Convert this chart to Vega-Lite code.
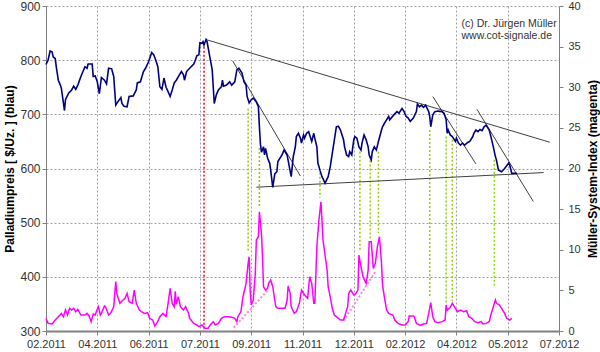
{
  "$schema": "https://vega.github.io/schema/vega-lite/v6.json",
  "width": 513,
  "height": 325,
  "autosize": {"type": "none"},
  "padding": {"left": 46, "top": 6, "right": 41, "bottom": 21},
  "background": "white",
  "config": {
    "view": {"stroke": null},
    "font": "Liberation Sans",
    "axis": {"labelColor": "#333333", "tickColor": "#808080", "domainColor": "#808080", "tickSize": 4, "gridColor": "#a0a0a0", "gridDash": [2, 2], "titleColor": "#000000", "titleFontWeight": "bold", "titleFontSize": 12},
    "axisX": {"labelFontSize": 11, "labelPadding": 3, "labelFlush": false, "labelOverlap": false, "domainWidth": 2, "grid": true},
    "axisLeft": {"labelFontSize": 12, "labelPadding": 2, "titlePadding": 3, "grid": true},
    "axisRight": {"labelFontSize": 11, "labelPadding": 5, "titlePadding": 7, "titleAngle": 270, "titleBaseline": "top", "grid": false}
  },
  "datasets": {
    "blue": [
      {"date":"2011-02-27","price":792},{"date":"2011-03-01","price":800},{"date":"2011-03-03","price":817},{"date":"2011-03-05","price":815},{"date":"2011-03-06","price":806},{"date":"2011-03-08","price":803},{"date":"2011-03-09","price":788},{"date":"2011-03-11","price":763},{"date":"2011-03-13","price":754},{"date":"2011-03-14","price":748},{"date":"2011-03-17","price":707},{"date":"2011-03-18","price":727},{"date":"2011-03-21","price":739},{"date":"2011-03-24","price":745},{"date":"2011-03-26","price":752},{"date":"2011-03-28","price":746},{"date":"2011-03-30","price":754},{"date":"2011-04-02","price":770},{"date":"2011-04-06","price":788},{"date":"2011-04-08","price":785},{"date":"2011-04-09","price":793},{"date":"2011-04-13","price":793},{"date":"2011-04-14","price":770},{"date":"2011-04-16","price":771},{"date":"2011-04-18","price":760},{"date":"2011-04-20","price":738},{"date":"2011-04-22","price":768},{"date":"2011-04-25","price":763},{"date":"2011-04-27","price":756},{"date":"2011-04-29","price":785},{"date":"2011-05-02","price":784},{"date":"2011-05-04","price":770},{"date":"2011-05-06","price":717},{"date":"2011-05-08","price":723},{"date":"2011-05-11","price":731},{"date":"2011-05-12","price":720},{"date":"2011-05-14","price":715},{"date":"2011-05-17","price":714},{"date":"2011-05-19","price":733},{"date":"2011-05-23","price":734},{"date":"2011-05-26","price":745},{"date":"2011-05-27","price":758},{"date":"2011-05-30","price":760},{"date":"2011-06-02","price":779},{"date":"2011-06-04","price":785},{"date":"2011-06-07","price":797},{"date":"2011-06-10","price":814},{"date":"2011-06-12","price":810},{"date":"2011-06-14","price":800},{"date":"2011-06-16","price":788},{"date":"2011-06-18","price":751},{"date":"2011-06-20","price":746},{"date":"2011-06-22","price":767},{"date":"2011-06-24","price":750},{"date":"2011-06-26","price":742},{"date":"2011-06-28","price":733},{"date":"2011-06-30","price":745},{"date":"2011-07-02","price":758},{"date":"2011-07-04","price":763},{"date":"2011-07-07","price":773},{"date":"2011-07-09","price":779},{"date":"2011-07-11","price":773},{"date":"2011-07-12","price":763},{"date":"2011-07-14","price":779},{"date":"2011-07-17","price":785},{"date":"2011-07-21","price":793},{"date":"2011-07-22","price":797},{"date":"2011-07-24","price":808},{"date":"2011-07-26","price":810},{"date":"2011-07-27","price":832},{"date":"2011-07-29","price":831},{"date":"2011-07-30","price":834},{"date":"2011-07-31","price":828},{"date":"2011-08-02","price":838},{"date":"2011-08-03","price":834},{"date":"2011-08-05","price":813},{"date":"2011-08-08","price":782},{"date":"2011-08-10","price":720},{"date":"2011-08-12","price":736},{"date":"2011-08-14","price":745},{"date":"2011-08-17","price":751},{"date":"2011-08-18","price":763},{"date":"2011-08-19","price":752},{"date":"2011-08-22","price":754},{"date":"2011-08-25","price":760},{"date":"2011-08-27","price":754},{"date":"2011-08-30","price":760},{"date":"2011-09-01","price":782},{"date":"2011-09-03","price":785},{"date":"2011-09-06","price":776},{"date":"2011-09-08","price":760},{"date":"2011-09-10","price":754},{"date":"2011-09-11","price":733},{"date":"2011-09-13","price":721},{"date":"2011-09-15","price":727},{"date":"2011-09-17","price":730},{"date":"2011-09-20","price":723},{"date":"2011-09-22","price":714},{"date":"2011-09-23","price":677},{"date":"2011-09-24","price":645},{"date":"2011-09-25","price":630},{"date":"2011-09-27","price":640},{"date":"2011-09-28","price":625},{"date":"2011-09-29","price":637},{"date":"2011-10-01","price":619},{"date":"2011-10-03","price":610},{"date":"2011-10-04","price":597},{"date":"2011-10-06","price":565},{"date":"2011-10-08","price":590},{"date":"2011-10-10","price":594},{"date":"2011-10-11","price":613},{"date":"2011-10-15","price":625},{"date":"2011-10-17","price":634},{"date":"2011-10-20","price":625},{"date":"2011-10-22","price":605},{"date":"2011-10-24","price":585},{"date":"2011-10-26","price":622},{"date":"2011-10-28","price":640},{"date":"2011-10-29","price":659},{"date":"2011-10-31","price":665},{"date":"2011-11-02","price":656},{"date":"2011-11-03","price":647},{"date":"2011-11-05","price":662},{"date":"2011-11-06","price":656},{"date":"2011-11-08","price":665},{"date":"2011-11-10","price":668},{"date":"2011-11-11","price":662},{"date":"2011-11-13","price":650},{"date":"2011-11-15","price":665},{"date":"2011-11-16","price":656},{"date":"2011-11-18","price":640},{"date":"2011-11-19","price":610},{"date":"2011-11-21","price":597},{"date":"2011-11-23","price":585},{"date":"2011-11-26","price":573},{"date":"2011-11-29","price":585},{"date":"2011-12-01","price":603},{"date":"2011-12-04","price":640},{"date":"2011-12-07","price":677},{"date":"2011-12-09","price":678},{"date":"2011-12-11","price":671},{"date":"2011-12-14","price":653},{"date":"2011-12-15","price":640},{"date":"2011-12-17","price":625},{"date":"2011-12-19","price":622},{"date":"2011-12-20","price":631},{"date":"2011-12-22","price":625},{"date":"2011-12-24","price":653},{"date":"2011-12-25","price":659},{"date":"2011-12-27","price":656},{"date":"2011-12-29","price":640},{"date":"2011-12-31","price":634},{"date":"2012-01-01","price":647},{"date":"2012-01-03","price":662},{"date":"2012-01-05","price":653},{"date":"2012-01-07","price":640},{"date":"2012-01-08","price":625},{"date":"2012-01-10","price":616},{"date":"2012-01-11","price":631},{"date":"2012-01-13","price":640},{"date":"2012-01-15","price":634},{"date":"2012-01-17","price":650},{"date":"2012-01-20","price":671},{"date":"2012-01-21","price":677},{"date":"2012-01-23","price":684},{"date":"2012-01-24","price":687},{"date":"2012-01-27","price":696},{"date":"2012-01-28","price":690},{"date":"2012-02-01","price":699},{"date":"2012-02-04","price":705},{"date":"2012-02-06","price":702},{"date":"2012-02-09","price":711},{"date":"2012-02-11","price":705},{"date":"2012-02-13","price":696},{"date":"2012-02-15","price":693},{"date":"2012-02-17","price":687},{"date":"2012-02-20","price":693},{"date":"2012-02-23","price":705},{"date":"2012-02-24","price":719},{"date":"2012-02-26","price":714},{"date":"2012-02-28","price":717},{"date":"2012-03-01","price":713},{"date":"2012-03-03","price":717},{"date":"2012-03-06","price":705},{"date":"2012-03-07","price":696},{"date":"2012-03-08","price":677},{"date":"2012-03-10","price":699},{"date":"2012-03-12","price":705},{"date":"2012-03-15","price":706},{"date":"2012-03-19","price":705},{"date":"2012-03-21","price":702},{"date":"2012-03-23","price":690},{"date":"2012-03-24","price":665},{"date":"2012-03-25","price":671},{"date":"2012-03-27","price":662},{"date":"2012-03-29","price":659},{"date":"2012-04-01","price":650},{"date":"2012-04-02","price":656},{"date":"2012-04-04","price":647},{"date":"2012-04-06","price":643},{"date":"2012-04-08","price":647},{"date":"2012-04-10","price":643},{"date":"2012-04-13","price":648},{"date":"2012-04-15","price":650},{"date":"2012-04-18","price":659},{"date":"2012-04-19","price":665},{"date":"2012-04-21","price":671},{"date":"2012-04-23","price":668},{"date":"2012-04-25","price":672},{"date":"2012-04-27","price":670},{"date":"2012-04-29","price":677},{"date":"2012-05-01","price":680},{"date":"2012-05-02","price":677},{"date":"2012-05-04","price":671},{"date":"2012-05-06","price":656},{"date":"2012-05-08","price":640},{"date":"2012-05-10","price":622},{"date":"2012-05-11","price":616},{"date":"2012-05-13","price":597},{"date":"2012-05-16","price":594},{"date":"2012-05-19","price":600},{"date":"2012-05-23","price":610},{"date":"2012-05-24","price":606},{"date":"2012-05-26","price":591},{"date":"2012-05-31","price":591}
    ],
    "magenta": [
      {"date":"2011-02-27","index":1.56},{"date":"2011-03-01","index":0.94},{"date":"2011-03-05","index":0.86},{"date":"2011-03-08","index":1.35},{"date":"2011-03-11","index":1.76},{"date":"2011-03-14","index":2.17},{"date":"2011-03-16","index":1.76},{"date":"2011-03-18","index":2.58},{"date":"2011-03-20","index":1.97},{"date":"2011-03-22","index":2.79},{"date":"2011-03-24","index":2.58},{"date":"2011-03-26","index":2.79},{"date":"2011-03-28","index":2.38},{"date":"2011-03-30","index":2.67},{"date":"2011-04-02","index":1.97},{"date":"2011-04-06","index":1.97},{"date":"2011-04-08","index":2.17},{"date":"2011-04-10","index":1.85},{"date":"2011-04-12","index":1.15},{"date":"2011-04-14","index":2.09},{"date":"2011-04-16","index":1.97},{"date":"2011-04-17","index":2.38},{"date":"2011-04-19","index":2.99},{"date":"2011-04-21","index":1.97},{"date":"2011-04-22","index":2.17},{"date":"2011-04-25","index":3.08},{"date":"2011-04-26","index":2.99},{"date":"2011-04-29","index":1.97},{"date":"2011-05-01","index":2.17},{"date":"2011-05-04","index":2.99},{"date":"2011-05-06","index":6.07},{"date":"2011-05-07","index":4.63},{"date":"2011-05-10","index":3.41},{"date":"2011-05-13","index":3.81},{"date":"2011-05-15","index":4.02},{"date":"2011-05-17","index":4.63},{"date":"2011-05-19","index":3.61},{"date":"2011-05-22","index":3.41},{"date":"2011-05-24","index":5.04},{"date":"2011-05-26","index":3.41},{"date":"2011-05-29","index":2.58},{"date":"2011-05-31","index":2.38},{"date":"2011-06-03","index":2.17},{"date":"2011-06-06","index":2.25},{"date":"2011-06-08","index":1.56},{"date":"2011-06-11","index":1.35},{"date":"2011-06-13","index":0.62},{"date":"2011-06-15","index":0.94},{"date":"2011-06-18","index":1.76},{"date":"2011-06-21","index":2.17},{"date":"2011-06-24","index":1.76},{"date":"2011-06-26","index":3.41},{"date":"2011-06-28","index":5.25},{"date":"2011-06-30","index":3.41},{"date":"2011-07-02","index":2.99},{"date":"2011-07-03","index":4.9},{"date":"2011-07-04","index":3.3},{"date":"2011-07-06","index":4.22},{"date":"2011-07-08","index":2.99},{"date":"2011-07-11","index":2.58},{"date":"2011-07-13","index":2.99},{"date":"2011-07-16","index":2.17},{"date":"2011-07-17","index":1.56},{"date":"2011-07-21","index":0.94},{"date":"2011-07-24","index":0.74},{"date":"2011-07-26","index":0.53},{"date":"2011-07-29","index":0.74},{"date":"2011-08-01","index":0.33},{"date":"2011-08-04","index":0.33},{"date":"2011-08-06","index":0.74},{"date":"2011-08-09","index":1.15},{"date":"2011-08-11","index":0.74},{"date":"2011-08-14","index":0.94},{"date":"2011-08-17","index":1.56},{"date":"2011-08-20","index":1.76},{"date":"2011-08-24","index":1.76},{"date":"2011-08-27","index":1.68},{"date":"2011-08-30","index":1.56},{"date":"2011-09-01","index":1.15},{"date":"2011-09-02","index":1.76},{"date":"2011-09-05","index":2.38},{"date":"2011-09-07","index":4.22},{"date":"2011-09-10","index":5.86},{"date":"2011-09-12","index":8.33},{"date":"2011-09-13","index":9.14},{"date":"2011-09-14","index":5.04},{"date":"2011-09-15","index":3.2},{"date":"2011-09-17","index":3.81},{"date":"2011-09-19","index":7.1},{"date":"2011-09-20","index":11.19},{"date":"2011-09-22","index":11.6},{"date":"2011-09-23","index":14.67},{"date":"2011-09-25","index":12.02},{"date":"2011-09-26","index":9.14},{"date":"2011-09-27","index":5.45},{"date":"2011-09-29","index":5.04},{"date":"2011-10-01","index":5.25},{"date":"2011-10-02","index":5.86},{"date":"2011-10-04","index":6.27},{"date":"2011-10-06","index":5.45},{"date":"2011-10-08","index":3.81},{"date":"2011-10-09","index":2.99},{"date":"2011-10-11","index":2.79},{"date":"2011-10-15","index":2.79},{"date":"2011-10-18","index":2.79},{"date":"2011-10-20","index":3.81},{"date":"2011-10-21","index":5.54},{"date":"2011-10-23","index":4.63},{"date":"2011-10-24","index":2.99},{"date":"2011-10-27","index":2.17},{"date":"2011-10-29","index":2.38},{"date":"2011-11-01","index":3.41},{"date":"2011-11-03","index":5.04},{"date":"2011-11-06","index":4.43},{"date":"2011-11-09","index":4.02},{"date":"2011-11-11","index":6.68},{"date":"2011-11-13","index":5.86},{"date":"2011-11-15","index":3.41},{"date":"2011-11-16","index":3.41},{"date":"2011-11-18","index":10.37},{"date":"2011-11-20","index":13.65},{"date":"2011-11-22","index":15.9},{"date":"2011-11-24","index":11.19},{"date":"2011-11-26","index":9.35},{"date":"2011-11-28","index":7.5},{"date":"2011-11-29","index":5.45},{"date":"2011-12-01","index":4.22},{"date":"2011-12-03","index":2.79},{"date":"2011-12-05","index":1.97},{"date":"2011-12-07","index":1.76},{"date":"2011-12-11","index":1.35},{"date":"2011-12-14","index":1.35},{"date":"2011-12-16","index":2.17},{"date":"2011-12-18","index":2.99},{"date":"2011-12-19","index":4.63},{"date":"2011-12-21","index":5.04},{"date":"2011-12-24","index":4.43},{"date":"2011-12-26","index":4.63},{"date":"2011-12-28","index":5.04},{"date":"2011-12-29","index":9.35},{"date":"2011-12-31","index":7.91},{"date":"2012-01-02","index":6.68},{"date":"2012-01-05","index":5.86},{"date":"2012-01-07","index":7.5},{"date":"2012-01-08","index":10.98},{"date":"2012-01-10","index":10.98},{"date":"2012-01-12","index":7.71},{"date":"2012-01-14","index":8.33},{"date":"2012-01-16","index":10.37},{"date":"2012-01-18","index":11.6},{"date":"2012-01-20","index":8.33},{"date":"2012-01-21","index":5.66},{"date":"2012-01-23","index":4.02},{"date":"2012-01-25","index":2.58},{"date":"2012-01-27","index":2.17},{"date":"2012-01-31","index":1.97},{"date":"2012-02-02","index":1.35},{"date":"2012-02-05","index":0.94},{"date":"2012-02-09","index":0.74},{"date":"2012-02-12","index":0.74},{"date":"2012-02-15","index":1.15},{"date":"2012-02-16","index":1.85},{"date":"2012-02-20","index":1.85},{"date":"2012-02-21","index":1.76},{"date":"2012-02-23","index":0.94},{"date":"2012-02-27","index":0.7},{"date":"2012-03-01","index":0.86},{"date":"2012-03-04","index":0.94},{"date":"2012-03-06","index":2.17},{"date":"2012-03-08","index":3.49},{"date":"2012-03-10","index":1.76},{"date":"2012-03-12","index":1.15},{"date":"2012-03-15","index":1.03},{"date":"2012-03-19","index":1.15},{"date":"2012-03-22","index":1.35},{"date":"2012-03-23","index":3.2},{"date":"2012-03-24","index":2.58},{"date":"2012-03-27","index":2.91},{"date":"2012-03-29","index":3.41},{"date":"2012-04-01","index":2.79},{"date":"2012-04-03","index":2.38},{"date":"2012-04-06","index":2.58},{"date":"2012-04-09","index":2.38},{"date":"2012-04-12","index":2.5},{"date":"2012-04-14","index":1.76},{"date":"2012-04-17","index":1.56},{"date":"2012-04-20","index":1.15},{"date":"2012-04-23","index":1.03},{"date":"2012-04-26","index":1.15},{"date":"2012-04-28","index":0.86},{"date":"2012-05-01","index":0.94},{"date":"2012-05-04","index":1.15},{"date":"2012-05-06","index":2.17},{"date":"2012-05-08","index":2.99},{"date":"2012-05-10","index":3.81},{"date":"2012-05-11","index":3.41},{"date":"2012-05-14","index":3.2},{"date":"2012-05-16","index":2.79},{"date":"2012-05-19","index":2.17},{"date":"2012-05-21","index":1.56},{"date":"2012-05-24","index":1.35},{"date":"2012-05-26","index":1.56}
    ],
    "trend": [
      {"line":"T1","date":"2011-08-02","price":838},{"line":"T1","date":"2012-07-02","price":648.5},
      {"line":"T2","date":"2011-08-28","price":798.5},{"line":"T2","date":"2011-11-02","price":586},
      {"line":"T3","date":"2011-09-20","price":565.5},{"line":"T3","date":"2012-06-26","price":592.5},
      {"line":"T4","date":"2012-03-10","price":732.7},{"line":"T4","date":"2012-04-21","price":608.5},
      {"line":"T5","date":"2012-04-22","price":709.4},{"line":"T5","date":"2012-06-16","price":539}
    ],
    "signals": [
      {"kind":"Hoch","date":"2011-07-31","top":825,"bottom":300},
      {"kind":"Signal","date":"2011-09-12","top":711,"bottom":447},
      {"kind":"Signal","date":"2011-09-23","top":638,"bottom":527},
      {"kind":"Signal","date":"2011-11-21","top":592,"bottom":546},
      {"kind":"Signal","date":"2011-12-30","top":631,"bottom":450},
      {"kind":"Signal","date":"2012-01-09","top":622,"bottom":468},
      {"kind":"Signal","date":"2012-01-17","top":631,"bottom":481},
      {"kind":"Signal","date":"2012-03-07","top":671,"bottom":361},
      {"kind":"Signal","date":"2012-03-23","top":659,"bottom":352},
      {"kind":"Signal","date":"2012-03-29","top":653,"bottom":355},
      {"kind":"Signal","date":"2012-05-09","top":616,"bottom":384}
    ],
    "pink": [
      {"line":"P1","date":"2011-08-29","index":0.4},{"line":"P1","date":"2011-10-01","index":5.0},
      {"line":"P2","date":"2011-12-14","index":1.27},{"line":"P2","date":"2012-01-14","index":7.3}
    ],
    "credit": [
      {"date":"2012-04-07","price":866,"label":"(c) Dr. Jürgen Müller"},
      {"date":"2012-04-07","price":845,"label":"www.cot-signale.de"}
    ]
  },
  "layer": [
    {
      "layer": [
        {
          "data": {"name": "signals"},
          "mark": {"type": "rule", "strokeDash": [2, 2], "strokeWidth": 1.5},
          "encoding": {
            "x": {"field": "date", "type": "temporal", "scale": {"domain": [{"year":2011,"month":2,"date":27},{"year":2012,"month":7,"date":11}]}},
            "y": {"field": "top", "type": "quantitative", "scale": {"domain": [300, 900]}},
            "y2": {"field": "bottom"},
            "color": {"field": "kind", "type": "nominal", "scale": {"domain": ["Hoch", "Signal"], "range": ["#ff0000", "#99cc00"]}, "legend": null}
          }
        },
        {
          "data": {"name": "trend"},
          "mark": {"type": "line", "color": "#404040", "strokeWidth": 1},
          "encoding": {
            "x": {"field": "date", "type": "temporal", "scale": {"domain": [{"year":2011,"month":2,"date":27},{"year":2012,"month":7,"date":11}]}},
            "y": {"field": "price", "type": "quantitative", "scale": {"domain": [300, 900]}},
            "detail": {"field": "line", "type": "nominal"}
          }
        },
        {
          "data": {"name": "blue"},
          "mark": {"type": "line", "color": "#000080", "strokeWidth": 1.6},
          "encoding": {
            "x": {
              "field": "date", "type": "temporal",
              "scale": {"domain": [{"year":2011,"month":2,"date":27},{"year":2012,"month":7,"date":11}]},
              "axis": {
                "values": [{"year":2011,"month":2,"date":27},{"year":2011,"month":4,"date":18},{"year":2011,"month":6,"date":7},{"year":2011,"month":7,"date":27},{"year":2011,"month":9,"date":15},{"year":2011,"month":11,"date":4},{"year":2011,"month":12,"date":24},{"year":2012,"month":2,"date":12},{"year":2012,"month":4,"date":2},{"year":2012,"month":5,"date":22},{"year":2012,"month":7,"date":11}],
                "format": "%m.%Y", "title": null
              }
            },
            "y": {
              "field": "price", "type": "quantitative", "scale": {"domain": [300, 900]},
              "axis": {"values": [300, 400, 500, 600, 700, 800, 900], "title": "Palladiumpreis [ $/Uz. ] (blau)"}
            }
          }
        },
        {
          "data": {"name": "credit"},
          "mark": {"type": "text", "align": "left", "baseline": "middle", "fontSize": 10.5, "color": "#333333"},
          "encoding": {
            "x": {"field": "date", "type": "temporal", "scale": {"domain": [{"year":2011,"month":2,"date":27},{"year":2012,"month":7,"date":11}]}},
            "y": {"field": "price", "type": "quantitative", "scale": {"domain": [300, 900]}},
            "text": {"field": "label"}
          }
        }
      ]
    },
    {
      "layer": [
        {
          "data": {"name": "pink"},
          "mark": {"type": "line", "color": "#ff88cc", "strokeWidth": 2, "strokeDash": [2, 2]},
          "encoding": {
            "x": {"field": "date", "type": "temporal", "scale": {"domain": [{"year":2011,"month":2,"date":27},{"year":2012,"month":7,"date":11}]}},
            "y": {"field": "index", "type": "quantitative", "scale": {"domain": [0, 40]}},
            "detail": {"field": "line", "type": "nominal"}
          }
        },
        {
          "data": {"name": "magenta"},
          "mark": {"type": "line", "color": "#ff00ff", "strokeWidth": 1.5},
          "encoding": {
            "x": {"field": "date", "type": "temporal", "scale": {"domain": [{"year":2011,"month":2,"date":27},{"year":2012,"month":7,"date":11}]}},
            "y": {
              "field": "index", "type": "quantitative", "scale": {"domain": [0, 40]},
              "axis": {"orient": "right", "values": [0, 5, 10, 15, 20, 25, 30, 35, 40], "title": "Müller-System-Index (magenta)"}
            }
          }
        }
      ]
    }
  ],
  "resolve": {"scale": {"y": "independent"}}
}
